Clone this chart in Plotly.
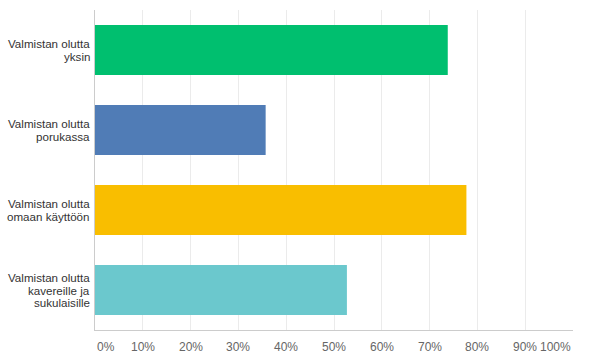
import plotly.graph_objects as go

categories = [
    "Valmistan olutta<br>yksin",
    "Valmistan olutta<br>porukassa",
    "Valmistan olutta<br>omaan käyttöön",
    "Valmistan olutta<br>kavereille ja<br>sukulaisille",
]
values = [73.8, 35.7, 77.7, 52.7]
colors = ["#00BF6F", "#507CB6", "#F9BE00", "#6BC8CD"]
tick_vals = [0, 10, 20, 30, 40, 50, 60, 70, 80, 90, 100]
tick_text = [f"{v}%" for v in tick_vals]

fig = go.Figure(
    go.Bar(
        x=values,
        y=list(range(len(categories))),
        orientation="h",
        marker=dict(color=colors, line=dict(width=0)),
        width=0.625,
        hoverinfo="x",
    )
)

annotations = []
line_h = 12.5
for i, cat in enumerate(categories):
    lines = cat.split("<br>")
    n = len(lines)
    for j, ln in enumerate(lines):
        off = ((n - 1) / 2 - j) * line_h
        annotations.append(dict(
            x=0, xref="paper", y=i, yref="y", text=ln, showarrow=False,
            xanchor="right", yanchor="middle", xshift=-3, yshift=off,
            font=dict(family="Liberation Sans, Arial", size=11.6, color="#333333"),
        ))

for k, (tv, tt) in enumerate(zip(tick_vals, tick_text)):
    anchor = "left" if k == 0 else ("right" if k == len(tick_vals) - 1 else "center")
    annotations.append(dict(
        x=tv, xref="x", y=0, yref="paper", text=tt, showarrow=False,
        xanchor=anchor, yanchor="middle", yshift=-17,
        font=dict(family="Liberation Sans, Arial", size=12, color="#666666"),
    ))

fig.update_layout(
    width=593, height=363,
    margin=dict(l=95, r=19.5, t=10, b=33),
    paper_bgcolor="white", plot_bgcolor="white",
    showlegend=False,
    annotations=annotations,
    xaxis=dict(
        range=[0, 100], tickvals=tick_vals, showticklabels=False,
        showgrid=True, gridcolor="#EBEBEB", gridwidth=1,
        zeroline=False, showline=True, linecolor="#CCCCCC", linewidth=1,
        fixedrange=True,
    ),
    yaxis=dict(
        range=[3.5, -0.5], showticklabels=False, showgrid=False,
        zeroline=False, showline=True, linecolor="#CCCCCC", linewidth=1,
        fixedrange=True,
    ),
)

fig.write_html(
    "out.html",
    config={"displayModeBar": False},
    post_script="document.body.style.margin='0';document.body.style.overflow='hidden';",
)
